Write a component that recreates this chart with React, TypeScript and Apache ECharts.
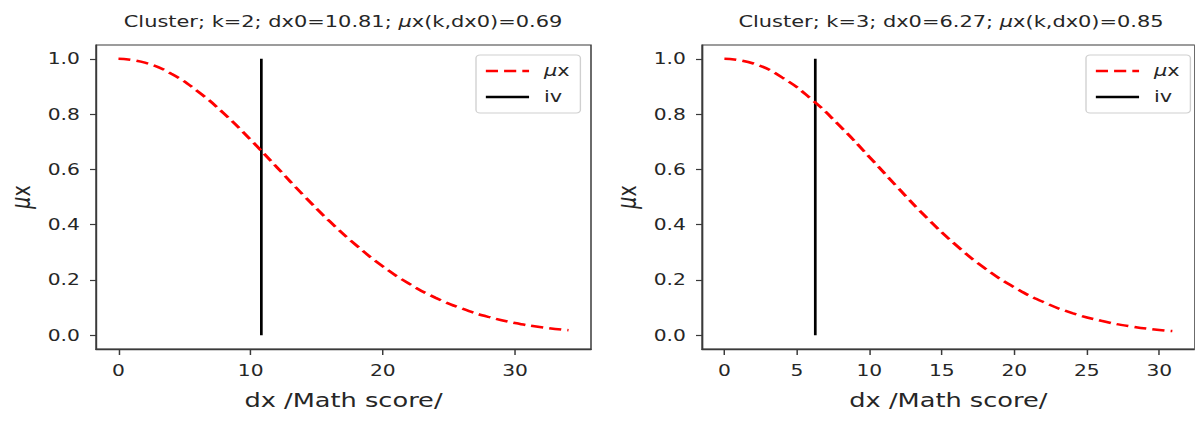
import React, { useEffect, useRef } from "react";
import * as echarts from "echarts";

const leftTitle = "Cluster; k=2; dx0=10.81; {i|μ}x(k,dx0)=0.69";
const rightTitle = "Cluster; k=3; dx0=6.27; {i|μ}x(k,dx0)=0.85";
const xLabel = "dx /Math score/";

const leftX = [0, 2, 4, 6, 8, 10, 12, 14, 16, 18, 20, 22, 24, 26, 28, 30, 32, 34.05];
const leftMu = [1.0, 0.986, 0.946, 0.882, 0.801, 0.707, 0.607, 0.506, 0.411, 0.325, 0.249, 0.186, 0.135, 0.096, 0.066, 0.044, 0.029, 0.018];
const leftIv = 10.81;
const leftTicks = [0, 10, 20, 30];

const rightX = [0, 2, 4, 6, 8, 10, 12, 14, 16, 18, 20, 22, 24, 26, 28, 30, 30.9];
const rightMu = [1.0, 0.983, 0.932, 0.854, 0.755, 0.645, 0.532, 0.423, 0.325, 0.241, 0.173, 0.12, 0.08, 0.052, 0.032, 0.019, 0.015];
const rightIv = 6.27;
const rightTicks = [0, 5, 10, 15, 20, 25, 30];

const yTicks = [0, 0.2, 0.4, 0.6, 0.8, 1.0];

const FONT = "DejaVu Sans";
const TXT = "#262626";
const SPINE = "#3a3a3a";
// the reference picture is stretched horizontally
const S = 1.35;
const W = 1195;
const H = 421;

export default function App() {
  const ref = useRef<HTMLDivElement>(null);
  useEffect(() => {
    if (!ref.current) return;
    const chart = echarts.init(ref.current, undefined, { renderer: "svg" });
    const rich = { i: { fontStyle: "italic", fontFamily: FONT, fontSize: 15.5, color: TXT } };
    const mkX = (idx: number, min: number, max: number, ticks: number[]) => ({
      type: "value",
      gridIndex: idx,
      min,
      max,
      name: xLabel,
      nameLocation: "middle",
      nameGap: 42,
      nameTextStyle: { fontFamily: FONT, fontSize: 19, color: TXT },
      axisLine: { show: true, onZero: false, lineStyle: { color: SPINE, width: 1.3 } },
      axisTick: { show: true, length: 6, customValues: ticks, lineStyle: { color: SPINE, width: 1.1 } },
      axisLabel: { customValues: ticks, margin: 14, fontFamily: FONT, fontSize: 15, color: TXT },
      splitLine: { show: false },
    });
    const mkY = (idx: number) => ({
      type: "value",
      gridIndex: idx,
      min: -0.05,
      max: 1.05,
      name: "{i|μ}x",
      nameLocation: "middle",
      nameGap: 46,
      nameRotate: 90,
      nameTextStyle: { fontFamily: FONT, fontSize: 19, color: TXT, rich: { i: { fontStyle: "italic", fontFamily: FONT, fontSize: 19, color: TXT } } },
      axisLine: { show: true, onZero: false, lineStyle: { color: SPINE, width: 1.0 } },
      axisTick: { show: true, length: 6 / S, customValues: yTicks, lineStyle: { color: SPINE, width: 1.2 } },
      axisLabel: { customValues: yTicks, margin: 12, fontFamily: FONT, fontSize: 15, color: TXT, formatter: (v: number) => v.toFixed(1) },
      splitLine: { show: false },
    });
    const muSeries = (idx: number, xs: number[], ys: number[]) => ({
      name: "μx",
      type: "line",
      xAxisIndex: idx,
      yAxisIndex: idx,
      data: xs.map((x, i) => [x, ys[i]]),
      smooth: true,
      symbol: "none",
      lineStyle: { color: "#ff0000", width: 2.5, type: [9, 4.5] },
      itemStyle: { color: "#ff0000" },
      z: 3,
    });
    const ivSeries = (idx: number, x: number) => ({
      name: "iv",
      type: "line",
      xAxisIndex: idx,
      yAxisIndex: idx,
      data: [[x, 0], [x, 1.0]],
      symbol: "none",
      lineStyle: { color: "#000000", width: 2.0 },
      itemStyle: { color: "#000000" },
      z: 2,
    });
    const mkLegend = (left: number) => ({
      show: true,
      orient: "vertical",
      left: left / S,
      top: 55,
      data: ["μx", "iv"],
      itemWidth: 32,
      itemHeight: 14,
      itemGap: 10,
      padding: [8, 8, 8, 6],
      borderColor: "#d0d0d0",
      borderWidth: 1,
      borderRadius: 3,
      backgroundColor: "rgba(255,255,255,0.8)",
      selectedMode: false,
      itemStyle: { opacity: 0 },
      lineStyle: { width: 2.6 },
      formatter: (n: string) => (n === "μx" ? "{i|μ}x" : n),
      textStyle: { fontFamily: FONT, fontSize: 15.5, color: TXT, padding: [0, 0, 0, 6], rich },
    });
    chart.setOption({
      animation: false,
      backgroundColor: "#ffffff",
      grid: [
        { left: 96 / S, top: 45, width: 495 / S, height: 304, show: true, borderColor: SPINE, borderWidth: 1.1, containLabel: false },
        { left: 702 / S, top: 45, width: 498 / S, height: 304, show: true, borderColor: SPINE, borderWidth: 1.1, containLabel: false },
      ],
      xAxis: [mkX(0, -1.7, 35.75, leftTicks), mkX(1, -1.545, 32.445, rightTicks)],
      yAxis: [mkY(0), mkY(1)],
      legend: [mkLegend(476), mkLegend(1086)],
      series: [muSeries(0, leftX, leftMu), ivSeries(0, leftIv), muSeries(1, rightX, rightMu), ivSeries(1, rightIv)],
      graphic: [
        { type: "text", x: 343 / S, y: 22, style: { text: leftTitle, align: "center", verticalAlign: "middle", fontFamily: FONT, fontSize: 15.5, fill: TXT, rich } },
        { type: "text", x: 951 / S, y: 22, style: { text: rightTitle, align: "center", verticalAlign: "middle", fontFamily: FONT, fontSize: 15.5, fill: TXT, rich } },
      ],
    });
    return () => chart.dispose();
  }, []);
  return (
    <div style={{ position: "fixed", left: 0, top: 0, width: W, height: H, overflow: "hidden", background: "#fff" }}>
      <div
        ref={ref}
        style={{ width: W / S, height: H, transform: `scale(${S}, 1)`, transformOrigin: "0 0" }}
      />
    </div>
  );
}
